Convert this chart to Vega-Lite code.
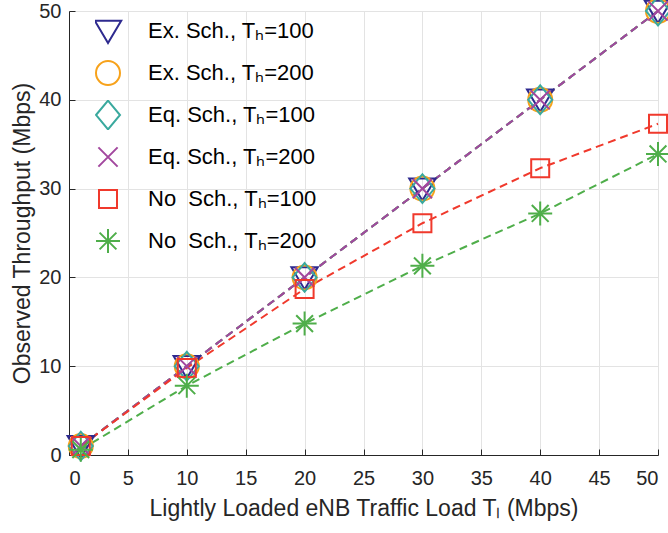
{
  "$schema": "https://vega.github.io/schema/vega-lite/v6.json",
  "width": 589,
  "height": 444,
  "autosize": "none",
  "padding": {"left": 69, "top": 11, "right": 10, "bottom": 78},
  "background": "white",
  "config": {
    "font": "Liberation Sans",
    "view": {"stroke": null},
    "axis": {
      "labelFont": "Liberation Sans",
      "titleFont": "Liberation Sans",
      "labelFontSize": 20,
      "titleFontSize": 23,
      "titleFontWeight": "normal",
      "labelColor": "#262626",
      "titleColor": "#262626",
      "domainColor": "#262626",
      "tickColor": "#262626",
      "tickSize": -6,
      "gridColor": "#e3e3e3",
      "gridWidth": 1
    },
    "legend": {
      "labelFont": "Liberation Sans",
      "labelFontSize": 22,
      "labelColor": "#000000",
      "labelLimit": 400
    }
  },
  "data": {
    "values": [
      {"series": "Ex. Sch., Tₕ=100", "x": 1, "y": 1},
      {"series": "Ex. Sch., Tₕ=100", "x": 10, "y": 10},
      {"series": "Ex. Sch., Tₕ=100", "x": 20, "y": 20},
      {"series": "Ex. Sch., Tₕ=100", "x": 30, "y": 30},
      {"series": "Ex. Sch., Tₕ=100", "x": 40, "y": 40},
      {"series": "Ex. Sch., Tₕ=100", "x": 50, "y": 50},
      {"series": "Ex. Sch., Tₕ=200", "x": 1, "y": 1},
      {"series": "Ex. Sch., Tₕ=200", "x": 10, "y": 10},
      {"series": "Ex. Sch., Tₕ=200", "x": 20, "y": 20},
      {"series": "Ex. Sch., Tₕ=200", "x": 30, "y": 30},
      {"series": "Ex. Sch., Tₕ=200", "x": 40, "y": 40},
      {"series": "Ex. Sch., Tₕ=200", "x": 50, "y": 50},
      {"series": "Eq. Sch., Tₕ=100", "x": 1, "y": 1},
      {"series": "Eq. Sch., Tₕ=100", "x": 10, "y": 10},
      {"series": "Eq. Sch., Tₕ=100", "x": 20, "y": 20},
      {"series": "Eq. Sch., Tₕ=100", "x": 30, "y": 30},
      {"series": "Eq. Sch., Tₕ=100", "x": 40, "y": 40},
      {"series": "Eq. Sch., Tₕ=100", "x": 50, "y": 50},
      {"series": "Eq. Sch., Tₕ=200", "x": 1, "y": 1},
      {"series": "Eq. Sch., Tₕ=200", "x": 10, "y": 10},
      {"series": "Eq. Sch., Tₕ=200", "x": 20, "y": 20},
      {"series": "Eq. Sch., Tₕ=200", "x": 30, "y": 30},
      {"series": "Eq. Sch., Tₕ=200", "x": 40, "y": 40},
      {"series": "Eq. Sch., Tₕ=200", "x": 50, "y": 50},
      {"series": "No\u00a0 Sch., Tₕ=100", "x": 1, "y": 1},
      {"series": "No\u00a0 Sch., Tₕ=100", "x": 10, "y": 9.8},
      {"series": "No\u00a0 Sch., Tₕ=100", "x": 20, "y": 18.7},
      {"series": "No\u00a0 Sch., Tₕ=100", "x": 30, "y": 26.1},
      {"series": "No\u00a0 Sch., Tₕ=100", "x": 40, "y": 32.3},
      {"series": "No\u00a0 Sch., Tₕ=100", "x": 50, "y": 37.3},
      {"series": "No\u00a0 Sch., Tₕ=200", "x": 1, "y": 0.6},
      {"series": "No\u00a0 Sch., Tₕ=200", "x": 10, "y": 7.8},
      {"series": "No\u00a0 Sch., Tₕ=200", "x": 20, "y": 14.8},
      {"series": "No\u00a0 Sch., Tₕ=200", "x": 30, "y": 21.3},
      {"series": "No\u00a0 Sch., Tₕ=200", "x": 40, "y": 27.2},
      {"series": "No\u00a0 Sch., Tₕ=200", "x": 50, "y": 33.9}
    ]
  },
  "encoding": {
    "x": {
      "field": "x", "type": "quantitative",
      "scale": {"domain": [0, 50], "nice": false},
      "axis": {"values": [0,5,10,15,20,25,30,35,40,45,50], "title": "Lightly Loaded eNB Traffic Load Tₗ (Mbps)", "titlePadding": 9, "labelPadding": 19}
    },
    "y": {
      "field": "y", "type": "quantitative",
      "scale": {"domain": [0, 50], "nice": false},
      "axis": {"values": [0,10,20,30,40,50], "title": "Observed Throughput (Mbps)", "titlePadding": 4, "labelPadding": 14}
    },
    "color": {
      "field": "series", "type": "nominal",
      "sort": ["Ex. Sch., Tₕ=100", "Ex. Sch., Tₕ=200", "Eq. Sch., Tₕ=100", "Eq. Sch., Tₕ=200", "No\u00a0 Sch., Tₕ=100", "No\u00a0 Sch., Tₕ=200"],
      "scale": {
        "domain": ["Ex. Sch., Tₕ=100", "Ex. Sch., Tₕ=200", "Eq. Sch., Tₕ=100", "Eq. Sch., Tₕ=200", "No\u00a0 Sch., Tₕ=100", "No\u00a0 Sch., Tₕ=200"],
        "range": ["#2e2a8f", "#f7a21b", "#3aa99e", "#a2479e", "#f0392c", "#4fae4a"]
      },
      "legend": {
        "title": null,
        "orient": "none",
        "legendX": 26,
        "legendY": 5,
        "symbolSize": 576,
        "symbolStrokeWidth": 2,
        "clipHeight": 30,
        "rowPadding": 12,
        "labelOffset": 27,
        "labelLimit": 400
      }
    }
  },
  "layer": [
    {
      "mark": {"type": "line", "strokeDash": [8, 5], "strokeWidth": 2},
      "encoding": {"detail": {"field": "series"}}
    },
    {
      "mark": {"type": "point", "filled": false, "strokeWidth": 2, "size": 576, "opacity": 1},
      "encoding": {
        "shape": {
          "field": "series", "type": "nominal",
          "scale": {
            "domain": ["Ex. Sch., Tₕ=100", "Ex. Sch., Tₕ=200", "Eq. Sch., Tₕ=100", "Eq. Sch., Tₕ=200", "No\u00a0 Sch., Tₕ=100", "No\u00a0 Sch., Tₕ=200"],
            "range": [
              "M-1.1,-0.85L1.1,-0.85L0,1Z",
              "circle",
              "M-1,0L0,-1.2L1,0L0,1.2Z",
              "M-0.8,-0.8L0.8,0.8M-0.8,0.8L0.8,-0.8",
              "M-0.75,-0.75L0.75,-0.75L0.75,0.75L-0.75,0.75Z",
              "M0,-1L0,1M-1,0L1,0M-0.7,-0.7L0.7,0.7M-0.7,0.7L0.7,-0.7"
            ]
          },
          "legend": {
            "title": null,
            "orient": "none",
            "legendX": 26,
            "legendY": 5,
            "symbolSize": 576,
            "symbolStrokeWidth": 2,
            "clipHeight": 30,
            "rowPadding": 12,
            "labelOffset": 27,
            "labelLimit": 400
          }
        }
      }
    }
  ]
}
